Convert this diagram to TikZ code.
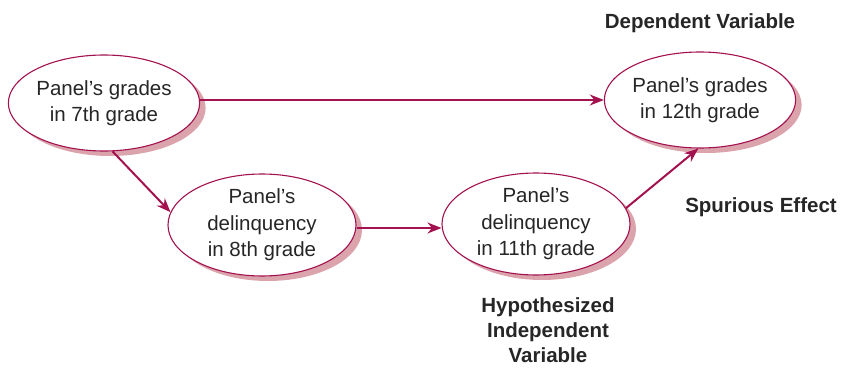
\documentclass[tikz,border=0pt]{standalone}
\usepackage{fontspec}
\setmainfont{Liberation Sans}
\usetikzlibrary{shapes.geometric,arrows.meta,shadows}
\definecolor{crim}{HTML}{A3124F}
\definecolor{shad}{HTML}{DBA3AB}
\begin{document}
\begin{tikzpicture}[x=1pt,y=-1pt,
  oval/.style={ellipse,draw=crim,line width=1.1pt,fill=white,minimum width=188pt,minimum height=96pt,inner sep=0pt,align=center,font=\fontsize{20.5}{26.5}\selectfont,text=black!85,
    drop shadow={shadow xshift=6pt,shadow yshift=-5pt,fill=shad,opacity=1}},
  conn/.style={draw=crim,line width=2pt,-{Stealth[length=14pt,width=11pt]}},
  lab/.style={font=\fontsize{20.5}{25}\selectfont\bfseries,text=black!85,align=center}]
\useasboundingbox (0,0) rectangle (844,369);
\node[oval] (a) at (104,103) {Panel’s grades\\in 7th grade};
\node[oval] (d) at (700,100) {Panel’s grades\\in 12th grade};
\node[oval] (b) at (262,225) {Panel’s\\delinquency\\in 8th grade};
\node[oval] (c) at (536,224) {Panel’s\\delinquency\\in 11th grade};
\draw[conn] (a.east |- 0,100) -- (d.west |- 0,100);
\draw[conn] (a.-80) -- (b.172);
\draw[conn] (b.east |- 0,228) -- (c.west |- 0,228);
\draw[conn] (c.10) -- (d.-92);
\node[lab] (dv) at (700,23) {Dependent Variable};
\node[lab] (se) at (761,207) {Spurious Effect};
\node[lab] (hiv) at (548,330) {Hypothesized\\Independent\\Variable};
\end{tikzpicture}
\end{document}
